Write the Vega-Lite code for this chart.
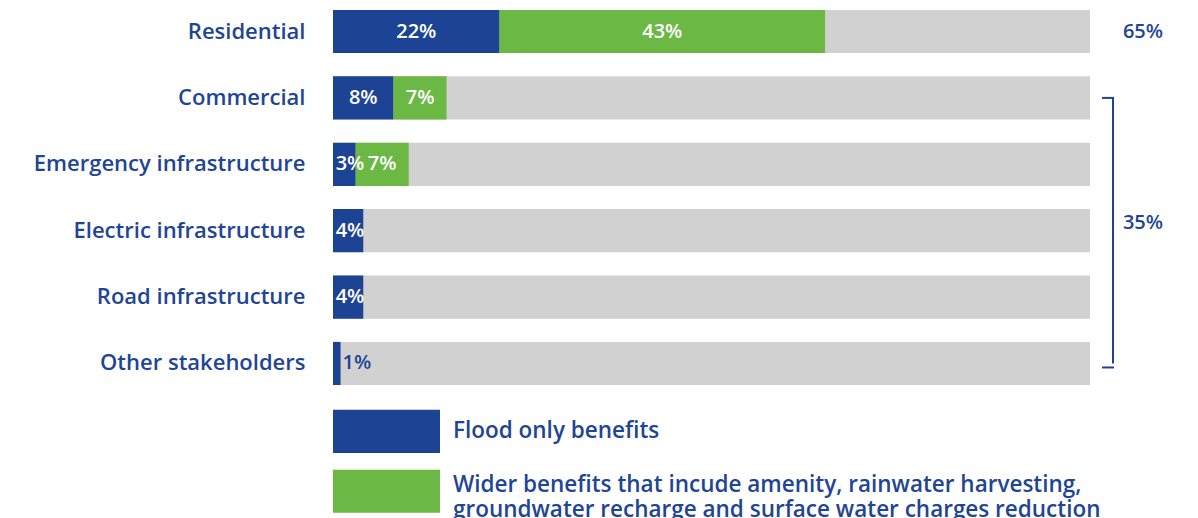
{
  "$schema": "https://vega.github.io/schema/vega-lite/v6.json",
  "padding": {"left": 33, "top": 0, "right": 0, "bottom": 0},
  "background": "white",
  "spacing": 7,
  "config": {"view": {"stroke": null}, "font": "Open Sans"},
  "datasets": {
    "shares": [
      {"category": "Residential", "flood": 0.22, "wider": 0.43},
      {"category": "Commercial", "flood": 0.08, "wider": 0.07},
      {"category": "Emergency infrastructure", "flood": 0.03, "wider": 0.07},
      {"category": "Electric infrastructure", "flood": 0.04, "wider": 0},
      {"category": "Road infrastructure", "flood": 0.04, "wider": 0},
      {"category": "Other stakeholders", "flood": 0.01, "wider": 0}
    ],
    "totals": [
      {"category": "Residential", "label": "65%"},
      {"category": "Electric infrastructure", "label": "35%"}
    ],
    "legend": [
      {"item": "Flood only benefits", "key": "flood", "text": "Flood only benefits"},
      {"item": "Wider benefits", "key": "wider", "text": "Wider benefits that incude amenity, rainwater harvesting,\ngroundwater recharge and surface water charges reduction"}
    ]
  },
  "vconcat": [
    {
      "width": 757,
      "height": 395,
      "data": {"name": "shares"},
      "transform": [
        {"fold": ["flood", "wider"], "as": ["key", "value"]},
        {"stack": "value", "groupby": ["category"], "sort": [{"field": "key", "order": "ascending"}], "as": ["x0", "x1"]},
        {"calculate": "max((datum.x0 + datum.x1) / 2, datum.x0 + 0.0225)", "as": "mid"}
      ],
      "encoding": {
        "y": {
          "field": "category",
          "type": "nominal",
          "sort": ["Residential", "Commercial", "Emergency infrastructure", "Electric infrastructure", "Road infrastructure", "Other stakeholders"],
          "scale": {"paddingInner": 0.35, "paddingOuter": 0.15},
          "axis": {"title": null, "domain": false, "ticks": false, "labelFontSize": 22, "labelFontWeight": 600, "labelColor": "#1f4595", "labelPadding": 28, "labelLimit": 400}
        }
      },
      "layer": [
        {
          "transform": [{"filter": "datum.key === 'flood'"}],
          "mark": {"type": "bar", "color": "#d1d1d1"},
          "encoding": {
            "x": {"datum": 0, "type": "quantitative", "scale": {"domain": [0, 1]}, "axis": null},
            "x2": {"datum": 1}
          }
        },
        {
          "transform": [{"filter": "datum.value > 0"}],
          "mark": {"type": "bar"},
          "encoding": {
            "x": {"field": "x0", "type": "quantitative"},
            "x2": {"field": "x1"},
            "color": {"field": "key", "type": "nominal", "scale": {"domain": ["flood", "wider"], "range": ["#1d4494", "#6cb844"]}, "legend": null}
          }
        },
        {
          "transform": [{"filter": "datum.value >= 0.02"}],
          "mark": {"type": "text", "color": "white", "fontSize": 20, "fontWeight": 600, "align": "center", "baseline": "middle"},
          "encoding": {
            "x": {"field": "mid", "type": "quantitative"},
            "text": {"field": "value", "type": "quantitative", "format": ".0%"}
          }
        },
        {
          "transform": [{"filter": "datum.value > 0 && datum.value < 0.02"}],
          "mark": {"type": "text", "color": "#1f4595", "fontSize": 20, "fontWeight": 600, "align": "left", "baseline": "middle", "dx": 2},
          "encoding": {
            "x": {"field": "x1", "type": "quantitative"},
            "text": {"field": "value", "type": "quantitative", "format": ".0%"}
          }
        },
        {
          "data": {"name": "totals"},
          "transform": [{"filter": "datum.label === '65%'"}],
          "mark": {"type": "text", "color": "#1f4595", "fontSize": 20, "fontWeight": 600, "align": "center", "baseline": "middle", "dx": 53},
          "encoding": {
            "x": {"datum": 1, "type": "quantitative"},
            "y": {"field": "category", "type": "nominal"},
            "text": {"field": "label"}
          }
        },
        {
          "data": {"name": "totals"},
          "transform": [{"filter": "datum.label === '35%'"}],
          "mark": {"type": "text", "color": "#1f4595", "fontSize": 20, "fontWeight": 600, "align": "center", "baseline": "middle", "dx": 53, "yOffset": -8},
          "encoding": {
            "x": {"datum": 1, "type": "quantitative"},
            "y": {"field": "category", "type": "nominal"},
            "text": {"field": "label"}
          }
        },
        {
          "data": {"name": "totals"},
          "transform": [{"filter": "datum.label === '35%'"}],
          "mark": {"type": "rule", "color": "#1d4494", "strokeWidth": 2, "xOffset": 23, "x2Offset": 23},
          "encoding": {
            "x": {"datum": 1, "type": "quantitative"},
            "y": {"datum": "Commercial", "type": "nominal"},
            "y2": {"datum": "Other stakeholders"}
          }
        },
        {
          "data": {"name": "totals"},
          "transform": [{"filter": "datum.label === '35%'"}],
          "mark": {"type": "rule", "color": "#1d4494", "strokeWidth": 2, "xOffset": 12, "x2Offset": 24},
          "encoding": {
            "x": {"datum": 1, "type": "quantitative"},
            "x2": {"datum": 1},
            "y": {"datum": "Commercial", "type": "nominal"}
          }
        },
        {
          "data": {"name": "totals"},
          "transform": [{"filter": "datum.label === '35%'"}],
          "mark": {"type": "rule", "color": "#1d4494", "strokeWidth": 2, "xOffset": 12, "x2Offset": 24, "yOffset": 4},
          "encoding": {
            "x": {"datum": 1, "type": "quantitative"},
            "x2": {"datum": 1},
            "y": {"datum": "Other stakeholders", "type": "nominal"}
          }
        }
      ]
    },
    {
      "width": 107,
      "height": 118.6,
      "data": {"name": "legend"},
      "encoding": {
        "y": {"field": "item", "type": "nominal", "sort": null, "scale": {"paddingInner": 0.28, "paddingOuter": 0.13}, "axis": null}
      },
      "layer": [
        {
          "mark": {"type": "bar"},
          "encoding": {
            "x": {"datum": 0, "type": "quantitative", "scale": {"domain": [0, 1]}, "axis": null},
            "x2": {"datum": 1},
            "color": {"field": "key", "type": "nominal", "scale": {"domain": ["flood", "wider"], "range": ["#1d4494", "#6cb844"]}, "legend": null}
          }
        },
        {
          "transform": [{"filter": "datum.key === 'flood'"}],
          "mark": {"type": "text", "align": "left", "baseline": "middle", "dx": 13, "fontSize": 22.5, "fontWeight": 600, "color": "#1f4595"},
          "encoding": {
            "x": {"datum": 1, "type": "quantitative"},
            "text": {"field": "text"}
          }
        },
        {
          "transform": [{"filter": "datum.key === 'wider'"}],
          "mark": {"type": "text", "align": "left", "baseline": "middle", "dx": 13, "yOffset": -6, "fontSize": 22.5, "fontWeight": 600, "color": "#1f4595", "lineBreak": "\n", "lineHeight": 25},
          "encoding": {
            "x": {"datum": 1, "type": "quantitative"},
            "text": {"field": "text"}
          }
        }
      ]
    }
  ]
}
